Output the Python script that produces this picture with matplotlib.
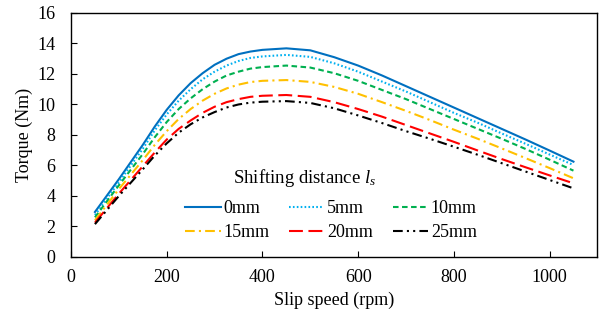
import matplotlib
matplotlib.use("Agg")
import matplotlib.pyplot as plt

plt.rcParams['font.family'] = ['Liberation Serif', 'DejaVu Serif']
plt.rcParams['mathtext.fontset'] = 'custom'
plt.rcParams['mathtext.it'] = 'Liberation Serif:italic'
plt.rcParams['mathtext.rm'] = 'Liberation Serif'
plt.rcParams['lines.scale_dashes'] = False

speed = [50, 100, 150, 175, 200, 225, 250, 275, 300, 325, 350, 375, 400, 450,
         500, 550, 600, 650, 700, 750, 800, 850, 900, 950, 1000, 1050]

t_0mm = [2.95, 5.1, 7.35, 8.55, 9.65, 10.6, 11.4, 12.05, 12.6, 13.0, 13.3, 13.47, 13.58, 13.68,
         13.55, 13.1, 12.55, 11.9, 11.2, 10.5, 9.8, 9.1, 8.4, 7.7, 6.98, 6.25]
t_5mm = [2.75, 4.9, 7.1, 8.3, 9.35, 10.25, 11.0, 11.65, 12.15, 12.55, 12.85, 13.05, 13.15, 13.25,
         13.12, 12.7, 12.15, 11.5, 10.85, 10.15, 9.45, 8.8, 8.1, 7.42, 6.72, 6.03]
t_10mm = [2.6, 4.7, 6.75, 7.85, 8.85, 9.7, 10.4, 11.0, 11.5, 11.9, 12.15, 12.35, 12.45, 12.55,
          12.42, 12.05, 11.55, 10.95, 10.35, 9.7, 9.05, 8.4, 7.75, 7.08, 6.38, 5.66]
t_15mm = [2.4, 4.45, 6.35, 7.35, 8.25, 9.05, 9.7, 10.25, 10.7, 11.05, 11.3, 11.47, 11.55, 11.6,
          11.48, 11.15, 10.7, 10.15, 9.58, 8.98, 8.35, 7.75, 7.12, 6.48, 5.83, 5.16]
t_20mm = [2.25, 4.15, 5.95, 6.85, 7.7, 8.4, 8.95, 9.45, 9.85, 10.15, 10.35, 10.5, 10.57, 10.62,
          10.5, 10.15, 9.7, 9.2, 8.65, 8.1, 7.55, 6.98, 6.42, 5.88, 5.35, 4.83]
t_25mm = [2.15, 4.0, 5.75, 6.65, 7.45, 8.15, 8.7, 9.15, 9.5, 9.8, 10.0, 10.12, 10.18, 10.22,
          10.1, 9.75, 9.28, 8.78, 8.25, 7.75, 7.23, 6.7, 6.15, 5.6, 5.05, 4.5]

labels = ['0mm', '5mm', '10mm', '15mm', '20mm', '25mm']
colors = ['#0070C0', '#00B0F0', '#00B050', '#FFC000', '#FF0000', '#000000']
styles = ['-', (0, (1.2, 1.6)), (0, (4, 2.5)), (0, (7, 3, 1.5, 3)),
          (0, (10, 4)), (0, (7, 3, 1.5, 3, 1.5, 3))]
series = [t_0mm, t_5mm, t_10mm, t_15mm, t_20mm, t_25mm]

fig = plt.figure(figsize=(6.05, 3.2), dpi=100)
ax = fig.add_axes([0.1174, 0.197, 0.870, 0.7625])

handles = []
for y, lab, c, ls in zip(series, labels, colors, styles):
    h, = ax.plot(speed, y, color=c, linestyle=ls, linewidth=1.5, label=lab)
    handles.append(h)

ax.set_xlim(0, 1100)
ax.set_ylim(0, 16)
ax.set_xticks([0, 200, 400, 600, 800, 1000])
ax.set_yticks(range(0, 17, 2))
ax.tick_params(direction='in', length=4, labelsize=13, width=0.8)
ax.tick_params(axis='x', pad=8.5)
ax.tick_params(axis='y', pad=11)
for s in ax.spines.values():
    s.set_linewidth(1.0)
ax.set_xlabel('Slip speed (rpm)', fontsize=13, labelpad=4)
ax.set_ylabel('Torque (Nm)', fontsize=13, labelpad=3)

ax.text(0.4435, 0.322, 'Shifting distance $l_s$', transform=ax.transAxes,
        ha='center', va='center', fontsize=13.5)

order = [0, 3, 1, 4, 2, 5]
leg = ax.legend([handles[i] for i in order], [labels[i] for i in order],
                ncol=3, loc='center', bbox_to_anchor=(0.494, 0.148),
                frameon=False, fontsize=13, handlelength=1.95,
                columnspacing=1.1, handletextpad=0.15, labelspacing=0.38,
                borderpad=0.0)

fig.savefig('out.png', dpi=100)
